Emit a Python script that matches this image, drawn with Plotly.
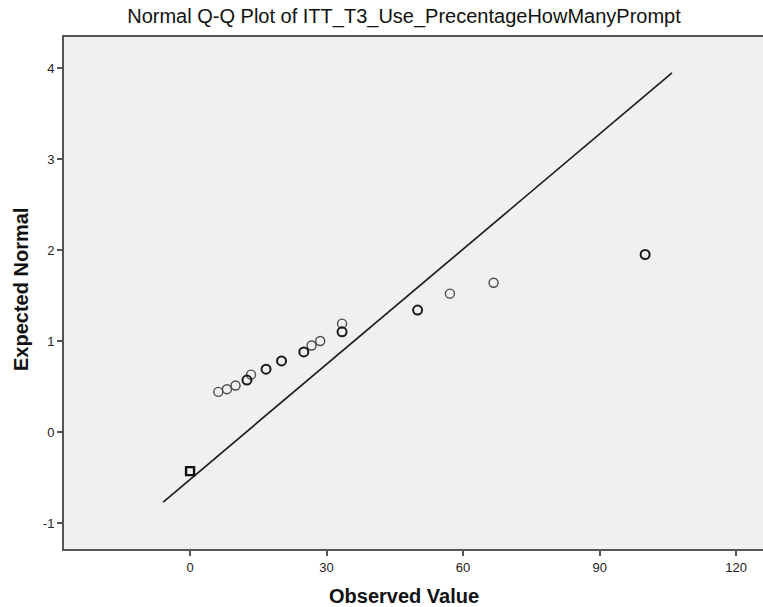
import plotly.graph_objects as go

obs_dark = [12.5, 16.7, 20.1, 25.0, 33.4, 50.0, 100.0]
exp_dark = [0.57, 0.69, 0.78, 0.88, 1.10, 1.34, 1.95]
obs_light = [6.2, 8.1, 10.0, 13.4, 26.7, 28.6, 33.4, 57.1, 66.7]
exp_light = [0.44, 0.47, 0.51, 0.63, 0.95, 1.00, 1.19, 1.52, 1.64]
obs_zero = [0.0]
exp_zero = [-0.43]

# Reference line endpoints
line_x = [-5.9, 105.9]
line_y = [-0.77, 3.945]

x_ticks = [0, 30, 60, 90, 120]
x_tick_labels = ["0", "30", "60", "90", "120"]
y_ticks = [-1, 0, 1, 2, 3, 4]
y_tick_labels = ["-1", "0", "1", "2", "3", "4"]

title_text = "Normal Q-Q Plot of ITT_T3_Use_PrecentageHowManyPrompt"
x_title = "Observed Value"
y_title = "Expected Normal"

FONT = "Liberation Sans, Arial, sans-serif"
W, H = 763, 607

fig = go.Figure()
fig.add_trace(go.Scatter(x=line_x, y=line_y, mode="lines",
                         line=dict(color="#1e1e1e", width=1.7),
                         hoverinfo="skip", showlegend=False))
fig.add_trace(go.Scatter(x=obs_light, y=exp_light, mode="markers",
                         marker=dict(symbol="circle-open", size=9, color="#4a4a4a",
                                     line=dict(color="#4a4a4a", width=1.4)),
                         showlegend=False))
fig.add_trace(go.Scatter(x=obs_dark, y=exp_dark, mode="markers",
                         marker=dict(symbol="circle-open", size=9, color="#1a1a1a",
                                     line=dict(color="#1a1a1a", width=2)),
                         showlegend=False))
fig.add_trace(go.Scatter(x=obs_zero, y=exp_zero, mode="markers",
                         marker=dict(symbol="square-open", size=8, color="#111111",
                                     line=dict(color="#111111", width=2.4)),
                         showlegend=False))

axis_common = dict(showgrid=False, zeroline=False, showline=True,
                   linecolor="#555555", linewidth=2, ticks="outside",
                   ticklen=5, tickwidth=1.5, tickcolor="#555555",
                   tickfont=dict(family=FONT, size=13, color="#222222"))

fig.update_layout(
    width=W, height=H,
    margin=dict(l=64, r=0, t=37, b=58),
    paper_bgcolor="white", plot_bgcolor="#f0f0f0",
    title=dict(text=title_text, font=dict(family=FONT, size=20, color="#111111"),
               x=404 / W, xanchor="center", xref="container",
               y=1 - 16 / H, yanchor="middle", yref="container"),
    xaxis=dict(range=[-27.7, 125.9], tickvals=x_ticks, ticktext=x_tick_labels,
               mirror=True, **axis_common),
    yaxis=dict(range=[-1.286, 4.34], tickvals=y_ticks, ticktext=y_tick_labels,
               mirror=False, **axis_common),
    annotations=[
        dict(text="<b>" + x_title + "</b>", xref="paper", yref="paper",
             x=(404 - 64) / (W - 64), y=-(596 - 549) / (549 - 37),
             xanchor="center", yanchor="middle", showarrow=False,
             font=dict(family=FONT, size=20, color="#111111")),
        dict(text="<b>" + y_title + "</b>", xref="paper", yref="paper",
             x=-(64 - 21) / (W - 64), y=(549 - 290) / (549 - 37),
             xanchor="center", yanchor="middle", showarrow=False, textangle=-90,
             font=dict(family=FONT, size=20, color="#111111")),
    ],
)

fig.write_html("out.html")
